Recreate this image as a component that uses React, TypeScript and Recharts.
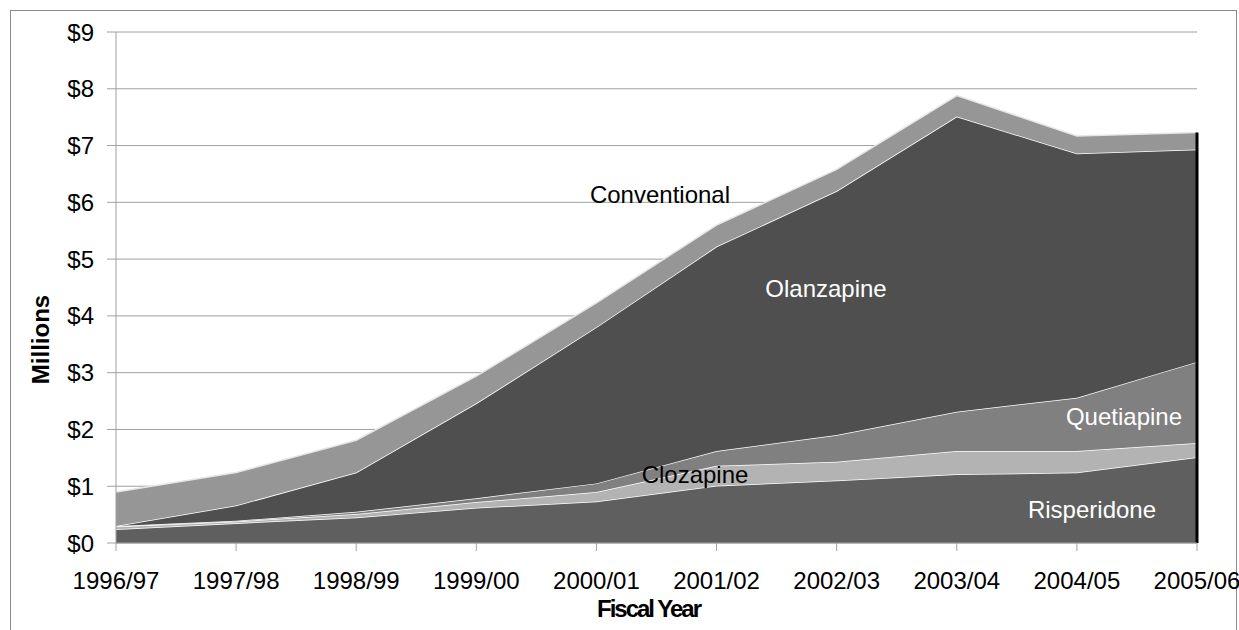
import React from 'react';
import {
  AreaChart,
  Area,
  XAxis,
  YAxis,
  CartesianGrid,
  ReferenceLine,
} from 'recharts';

const years = ['1996/97', '1997/98', '1998/99', '1999/00', '2000/01', '2001/02', '2002/03', '2003/04', '2004/05', '2005/06'];
const risperidone = [0.24, 0.35, 0.45, 0.62, 0.73, 1.01, 1.1, 1.21, 1.24, 1.51];
const clozapine = [0.05, 0.03, 0.06, 0.1, 0.17, 0.35, 0.33, 0.41, 0.38, 0.25];
const quetiapine = [0.01, 0.01, 0.04, 0.07, 0.15, 0.26, 0.47, 0.69, 0.94, 1.43];
const olanzapine = [0.0, 0.27, 0.69, 1.67, 2.75, 3.6, 4.3, 5.2, 4.3, 3.74];
const conventional = [0.6, 0.58, 0.57, 0.48, 0.43, 0.38, 0.38, 0.37, 0.31, 0.3];
const yTicks = [0, 1, 2, 3, 4, 5, 6, 7, 8, 9];

const data = years.map((year, i) => ({
  year,
  risperidone: risperidone[i],
  clozapine: clozapine[i],
  quetiapine: quetiapine[i],
  olanzapine: olanzapine[i],
  conventional: conventional[i],
}));

const lastIdx = years.length - 1;
const lastTotal =
  risperidone[lastIdx] + clozapine[lastIdx] + quetiapine[lastIdx] + olanzapine[lastIdx] + conventional[lastIdx];

const FONT = '"Liberation Sans", Arial, sans-serif';

const SeriesLabels = () => (
  <svg
    width={1239}
    height={630}
    style={{ position: 'absolute', left: 0, top: 0, pointerEvents: 'none' }}
  >
    <g style={{ fontFamily: FONT, fontSize: 24 }}>
      <text x={660} y={203} textAnchor="middle" fill="#000">Conventional</text>
      <text x={826} y={297} textAnchor="middle" fill="#fff">Olanzapine</text>
      <text x={695} y={483} textAnchor="middle" fill="#000">Clozapine</text>
      <text x={1124} y={425} textAnchor="middle" fill="#fff">Quetiapine</text>
      <text x={1092} y={518} textAnchor="middle" fill="#fff">Risperidone</text>
    </g>
  </svg>
);

export default function App() {
  return (
    <div
      style={{
        position: 'absolute',
        left: 0,
        top: 0,
        width: 1239,
        height: 630,
        background: '#fff',
        overflow: 'hidden',
        fontFamily: FONT,
      }}
    >
      <div
        style={{
          position: 'absolute',
          left: 10,
          top: 10,
          width: 1227,
          height: 700,
          boxSizing: 'border-box',
          border: '1px solid #8a8a8a',
        }}
      />
      <div style={{ position: 'absolute', left: 0, top: 0 }}>
        <AreaChart
          width={1239}
          height={630}
          data={data}
          margin={{ top: 32, right: 42, bottom: 27, left: 0 }}
        >
          <CartesianGrid horizontal vertical={false} stroke="#a0a0a0" strokeWidth={1} />
          <XAxis
            dataKey="year"
            height={60}
            tickSize={8}
            tickMargin={21}
            stroke="#a0a0a0"
            tick={{ fontSize: 24, fill: '#000', fontFamily: FONT }}
            interval={0}
            label={{
              value: 'Fiscal Year',
              position: 'center',
              dx: -8,
              dy: 35,
              style: { fontSize: 24, fontWeight: 'bold', fill: '#000', fontFamily: FONT, letterSpacing: '-2px' },
            }}
          />
          <YAxis
            width={116}
            domain={[0, 9]}
            ticks={yTicks}
            interval={0}
            tickSize={9}
            tickMargin={13}
            stroke="#a0a0a0"
            tickFormatter={(v: number) => `$${v}`}
            tick={{ fontSize: 24, fill: '#000', fontFamily: FONT }}
            label={{
              value: 'Millions',
              angle: -90,
              position: 'center',
              dx: -18,
              dy: 52,
              style: { fontSize: 24, fontWeight: 'bold', fill: '#000', fontFamily: FONT },
            }}
          />
          <Area type="linear" dataKey="risperidone" stackId="a" fill="#5f5f5f" fillOpacity={1} stroke="#fff" strokeWidth={1.5} isAnimationActive={false} />
          <Area type="linear" dataKey="clozapine" stackId="a" fill="#b3b3b3" fillOpacity={1} stroke="#fff" strokeWidth={1.5} isAnimationActive={false} />
          <Area type="linear" dataKey="quetiapine" stackId="a" fill="#808080" fillOpacity={1} stroke="#fff" strokeWidth={1.5} isAnimationActive={false} />
          <Area type="linear" dataKey="olanzapine" stackId="a" fill="#4f4f4f" fillOpacity={1} stroke="#fff" strokeWidth={1.5} isAnimationActive={false} />
          <Area type="linear" dataKey="conventional" stackId="a" fill="#969696" fillOpacity={1} stroke="#e6e6e6" strokeWidth={1.5} isAnimationActive={false} />
          <ReferenceLine
            segment={[
              { x: years[lastIdx], y: 0 },
              { x: years[lastIdx], y: lastTotal },
            ]}
            stroke="#000"
            strokeWidth={3}
          />
        </AreaChart>
      </div>
      <SeriesLabels />
    </div>
  );
}
